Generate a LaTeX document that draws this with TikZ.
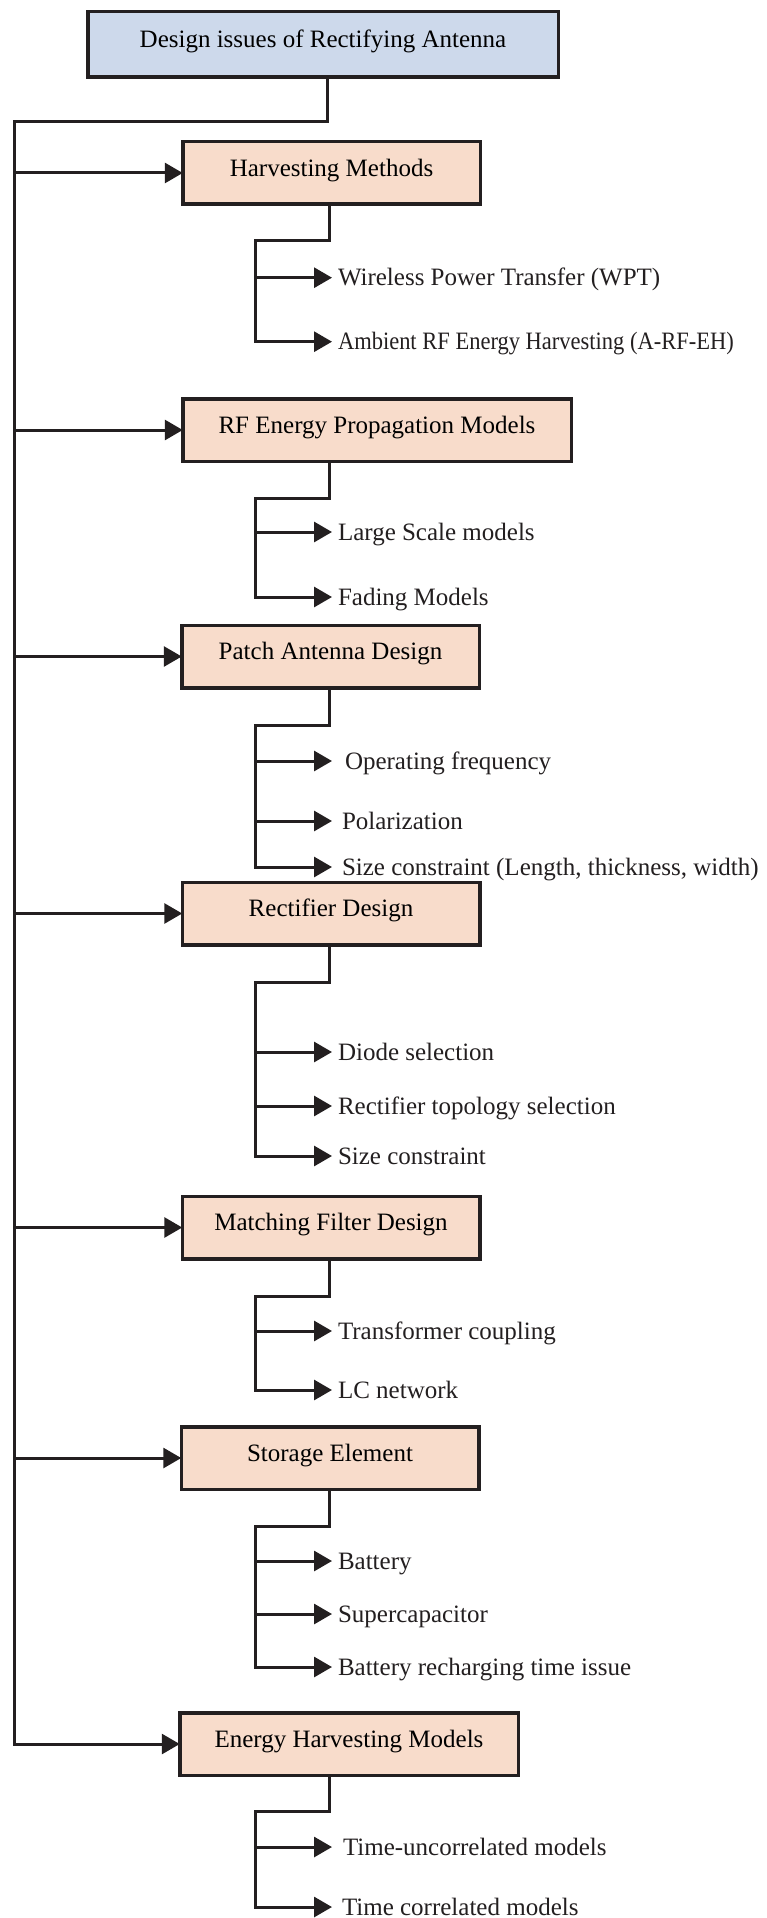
\documentclass[tikz,border=0pt]{standalone}
\usepackage{fontspec}
\setmainfont{Liberation Serif}
\newfontfamily\narrowfont[FakeStretch=0.9]{Liberation Serif}
\usetikzlibrary{arrows.meta}
\definecolor{linec}{HTML}{231F20}
\definecolor{topblue}{HTML}{CDD9EB}
\definecolor{peach}{HTML}{F8DCCB}
\begin{document}
\begin{tikzpicture}[x=1pt,y=-1pt,
  font=\fontsize{25}{30}\selectfont,
  line/.style={line width=3pt, draw=linec, line cap=rect, line join=miter},
  arr/.style={line width=3pt, draw=linec, -{Triangle[length=18pt,width=20pt]}},
  box/.style={draw=linec, line width=3.5pt, minimum height=62.5pt, text height=16.5pt, text depth=10pt, inner sep=0pt, outer sep=0pt},
  cat/.style={box, fill=peach, minimum width=297.5pt},
  item/.style={anchor=west, inner xsep=6pt, inner ysep=0pt, outer sep=0pt, text height=16.5pt, text depth=0pt, text=linec}
]
\useasboundingbox (0,0) rectangle (766,1918);
\fill[white] (0,0) rectangle (766,1918);

% main boxes
\node[box, fill=topblue, minimum width=470.5pt, minimum height=65.5pt] (top) at (323,44.5) {Design issues of Rectifying Antenna};
\node[cat] (hm) at (331.5,173) {Harvesting Methods};
\node[cat, minimum width=388.5pt] (rf) at (377,430) {RF Energy Propagation Models};
\node[cat] (pad) at (330.5,656.5) {Patch Antenna Design};
\node[cat] (rd) at (331,913.5) {Rectifier Design};
\node[cat] (mfd) at (331,1227.5) {Matching Filter Design};
\node[cat] (se) at (330,1458) {Storage Element};
\node[cat, minimum width=338.5pt] (ehm) at (349,1744) {Energy Harvesting Models};

% trunk
\coordinate (tk) at (14,122);
\draw[line] ([xshift=4pt]top.south) |- (tk) -- (tk |- ehm.west);
\foreach \n in {hm,rf,pad,rd,mfd,se,ehm}
  \draw[arr] (tk |- \n.west) -- (\n.west);

% sub items
\coordinate (sx) at (329,0);
\node[item] (hm1) at (332,277.7) {Wireless Power Transfer (WPT)};
\node[item, font=\fontsize{25}{30}\narrowfont] (hm2) at (332,341.7) {Ambient RF Energy Harvesting (A-RF-EH)};
\node[item] (rf1) at (332,532) {Large Scale models};
\node[item] (rf2) at (332,597) {Fading Models};
\node[item, inner xsep=13pt] (pad1) at (332,761) {Operating frequency};
\node[item, inner xsep=10pt] (pad2) at (332,821) {Polarization};
\node[item, inner xsep=10pt] (pad3) at (332,867) {Size constraint (Length, thickness, width)};
\node[item] (rd1) at (332,1052) {Diode selection};
\node[item] (rd2) at (332,1106) {Rectifier topology selection};
\node[item] (rd3) at (332,1156) {Size constraint};
\node[item] (mfd1) at (332,1331) {Transformer coupling};
\node[item] (mfd2) at (332,1390) {LC network};
\node[item] (se1) at (332,1561) {Battery};
\node[item] (se2) at (332,1614) {Supercapacitor};
\node[item] (se3) at (332,1667) {Battery recharging time issue};
\node[item, inner xsep=11pt] (ehm1) at (332,1847) {Time-uncorrelated models};
\node[item, inner xsep=10pt] (ehm2) at (332,1907) {Time correlated models};

\coordinate (hmb) at (255,241);
\coordinate (rfb) at (255,498);
\coordinate (padb) at (255,725);
\coordinate (rdb) at (255,982.5);
\coordinate (mfdb) at (255,1296);
\coordinate (seb) at (255,1526);
\coordinate (ehmb) at (255,1811);

\draw[line] (hm.south -| sx) |- (hmb) -- (hmb |- hm2.west);
\draw[line] (rf.south -| sx) |- (rfb) -- (rfb |- rf2.west);
\draw[line] (pad.south -| sx) |- (padb) -- (padb |- pad3.west);
\draw[line] (rd.south -| sx) |- (rdb) -- (rdb |- rd3.west);
\draw[line] (mfd.south -| sx) |- (mfdb) -- (mfdb |- mfd2.west);
\draw[line] (se.south -| sx) |- (seb) -- (seb |- se3.west);
\draw[line] (ehm.south -| sx) |- (ehmb) -- (ehmb |- ehm2.west);

\foreach \n/\b in {hm1/hmb,hm2/hmb,rf1/rfb,rf2/rfb,pad1/padb,pad2/padb,pad3/padb,rd1/rdb,rd2/rdb,rd3/rdb,mfd1/mfdb,mfd2/mfdb,se1/seb,se2/seb,se3/seb,ehm1/ehmb,ehm2/ehmb}
  \draw[arr] (\b |- \n.west) -- (\n.west);
\end{tikzpicture}
\end{document}
